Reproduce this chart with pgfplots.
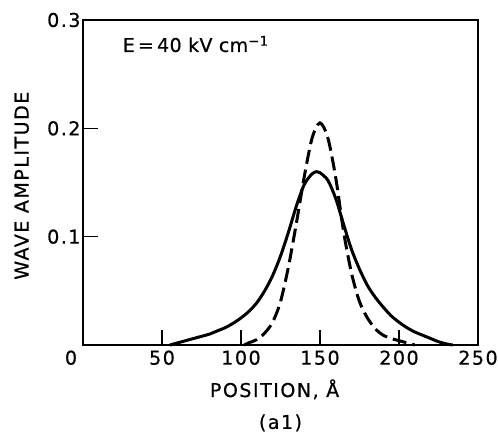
\documentclass[border=0pt]{standalone}
\usepackage{pgfplots}
\pgfplotsset{compat=1.18}
\usepackage{fontspec}
\setmainfont{DejaVu Sans}[LetterSpace=8, FakeBold=0.6]

\begin{document}
\begin{tikzpicture}[font=\fontsize{19}{22}\selectfont]
\begin{axis}[
  at={(0,0)}, anchor=south west,
  scale only axis,
  width=395pt, height=325pt,
  xmin=0, xmax=250, ymin=0, ymax=0.3,
  xtick={0,50,...,250},
  xticklabels={\makebox[0pt]{\hspace*{-24pt}0},50,100,150,200,250},
  ytick={0.1,0.2,0.3},
  yticklabels={0.1,0.2,0.3},
  /pgf/number format/assume math mode=true,
  tick align=inside,
  xtick pos=bottom, ytick pos=left,
  major tick length=15pt,
  axis line style={line width=1.6pt},
  every tick/.style={black, line width=1.1pt},
  tick label style={font=\fontsize{19}{22}\selectfont},
  xticklabel style={yshift=-2pt},
  yticklabel style={xshift=1pt},
  xlabel={POSITION, Å},
  ylabel={WAVE AMPLITUDE},
  xlabel style={at={(axis description cs:0.485,-0.16)}, anchor=base, font=\fontsize{19}{22}\selectfont},
  ylabel style={at={(axis description cs:-0.155,0.49)}, anchor=center, font=\fontsize{19}{22}\selectfont},
  clip=false,
]
% solid curve
\addplot[black, line width=3pt, smooth] coordinates {
  (55,0.000) (60,0.002) (65,0.004) (70,0.006) (75,0.008) (80,0.010)
  (85,0.013) (90,0.016) (95,0.020) (100,0.025) (105,0.031) (110,0.039)
  (115,0.050) (120,0.064) (125,0.082) (130,0.104) (135,0.128) (140,0.148)
  (145,0.158) (148,0.160) (150,0.159) (155,0.152) (160,0.135) (165,0.111)
  (170,0.088) (175,0.070) (180,0.055) (185,0.044) (190,0.035) (195,0.027)
  (200,0.021) (205,0.016) (210,0.012) (215,0.009) (220,0.006) (225,0.003)
  (230,0.001) (234,0.000)
};
% dashed curve
\addplot[black, line width=3pt, smooth, dash pattern=on 14pt off 6pt] coordinates {
  (102,0.000) (105,0.002) (110,0.005) (115,0.011) (120,0.021) (125,0.040)
  (130,0.072) (135,0.112) (140,0.155) (145,0.191) (150,0.205) (155,0.191)
  (160,0.154) (165,0.104) (170,0.066) (175,0.040) (180,0.025) (185,0.015)
  (190,0.009) (195,0.006) (200,0.004) (205,0.002) (210,0.000)
};
\node[anchor=base west, font=\fontsize{19}{22}\selectfont\addfontfeature{LetterSpace=2}]
  at (axis cs:23,0.2705) {E\,=\,40 kV cm\textsuperscript{−1}};
\node[anchor=base] at (axis description cs:0.5,-0.258) {(a1)};
\end{axis}
\pgfresetboundingbox
\path[use as bounding box] (-83pt,-93pt) rectangle (415pt,345pt);
\end{tikzpicture}
\end{document}
